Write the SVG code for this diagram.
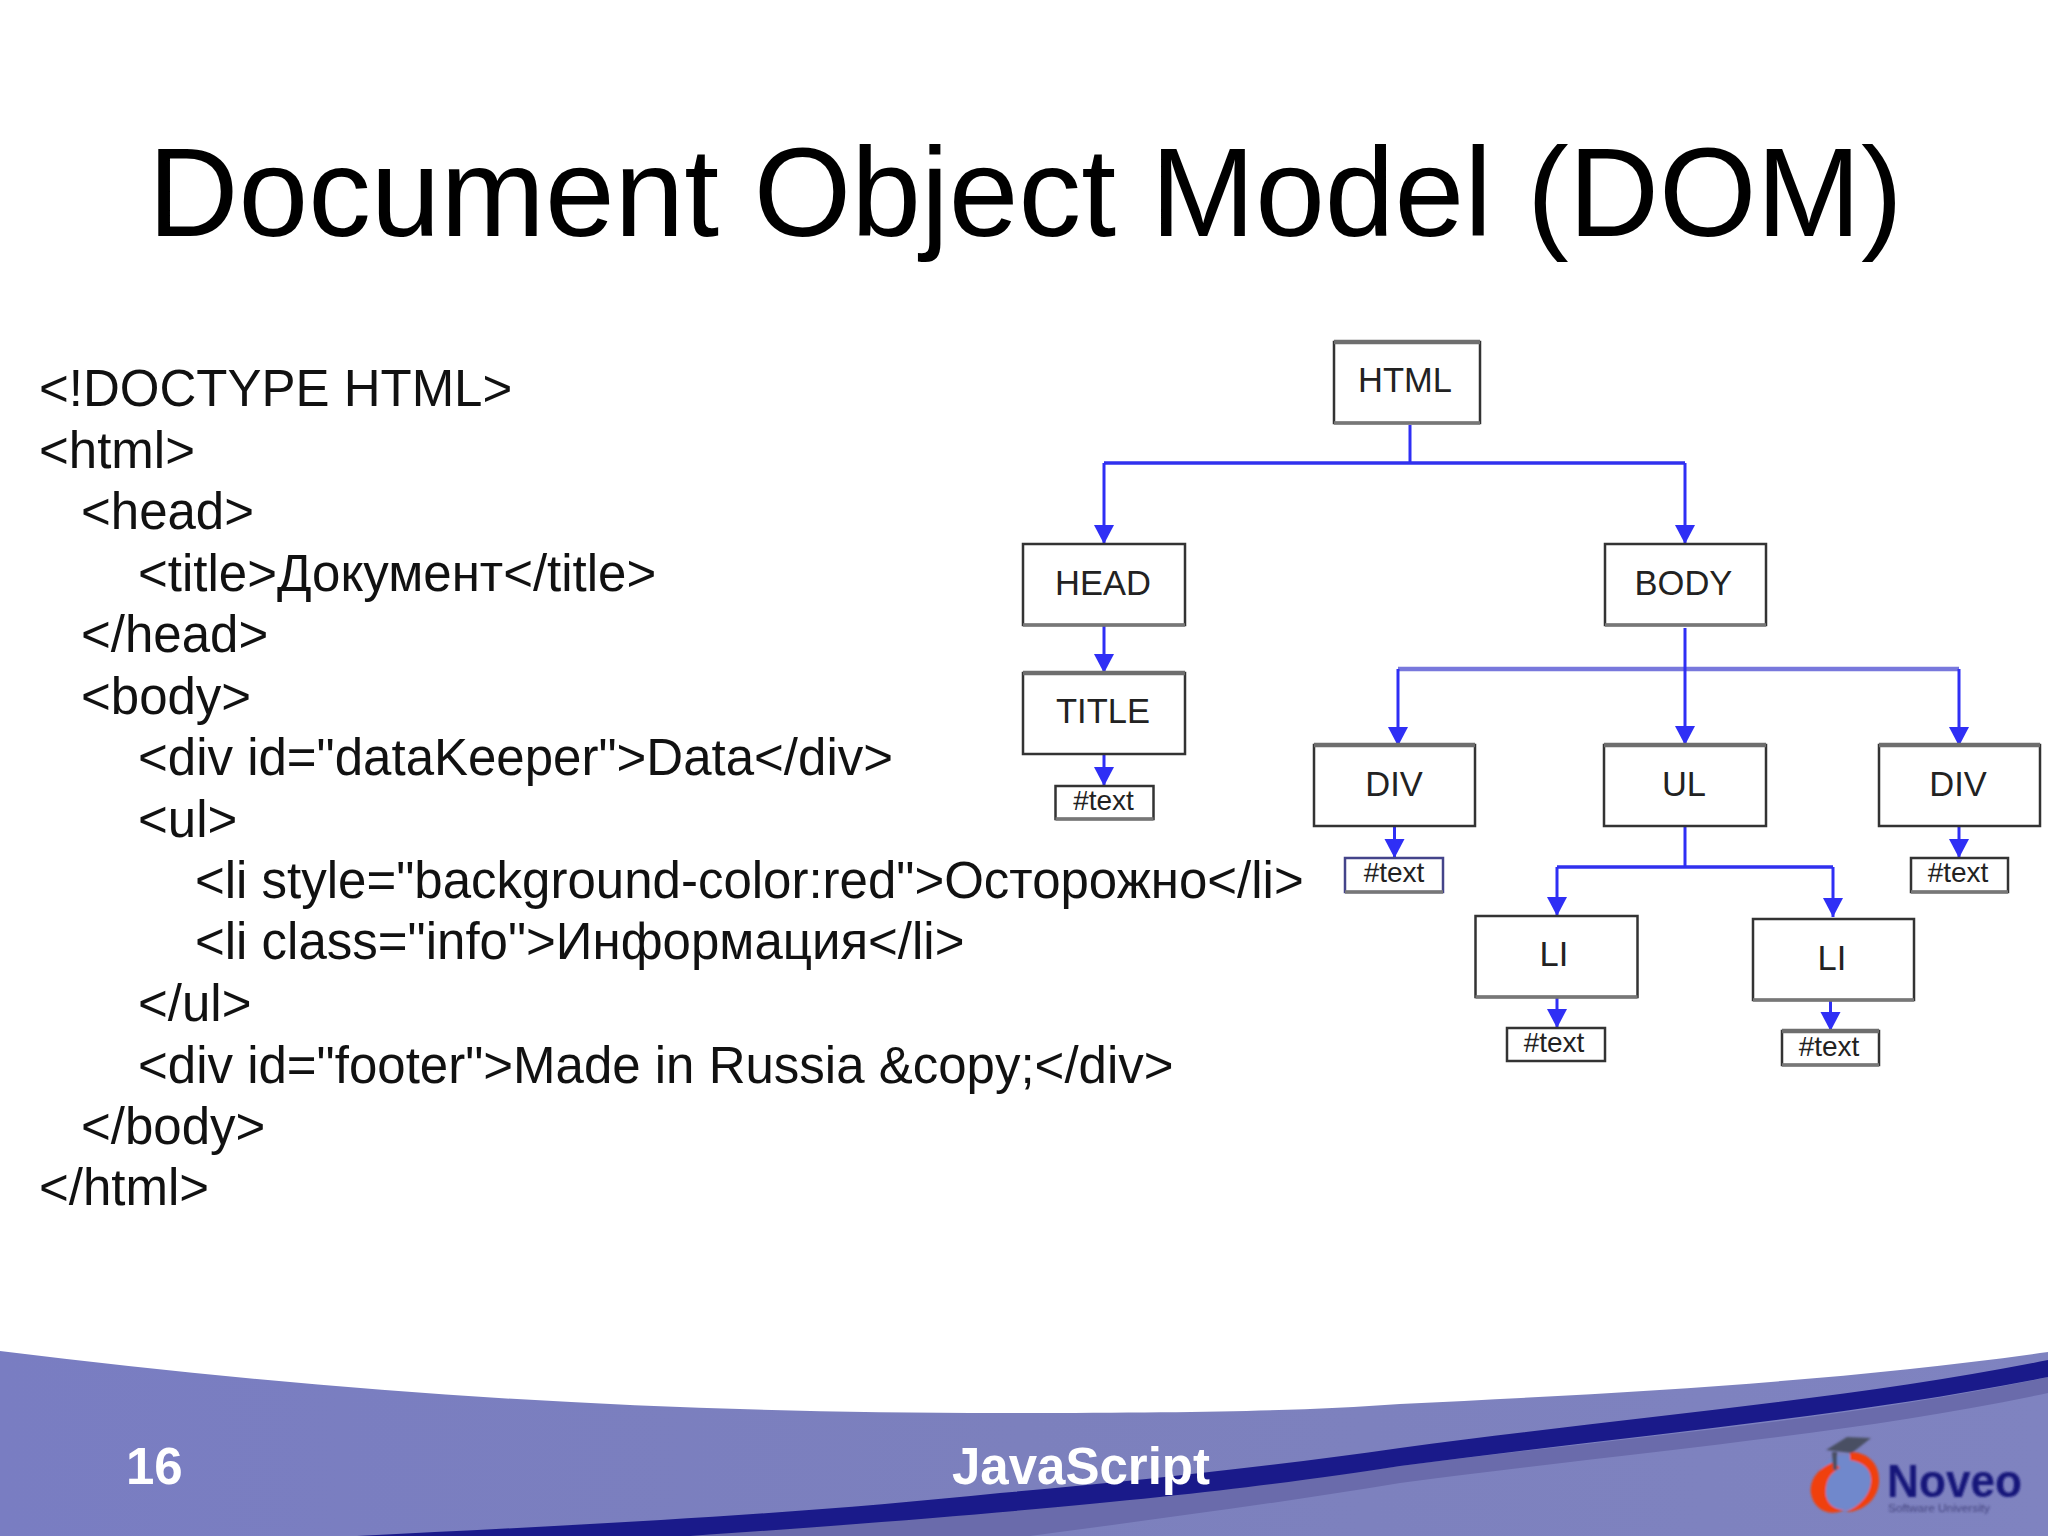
<svg xmlns="http://www.w3.org/2000/svg" width="2048" height="1536" viewBox="0 0 2048 1536">
<style>
text{font-family:"Liberation Sans",Arial,sans-serif}
.title{font-size:125.300px;fill:#000}
.code{font-size:51px;fill:#111}
.lbl{font-size:34.500px;fill:#222;text-anchor:middle}
.sm{font-size:28px;fill:#222;text-anchor:middle}
.box{fill:#fff;stroke:#333;stroke-width:2.5}
.box.blue{stroke:#44448a}
.top{stroke:#6e6e6e;stroke-width:4.5;fill:none}
.bot{stroke:#777;stroke-width:3.5;fill:none}
.c{stroke:#2f2ff5;stroke-width:3;fill:none}
.h{stroke:#3030ee;stroke-width:3.5;fill:none}
.a{marker-end:url(#arrow)}
.foot{font-size:51px;font-weight:bold;fill:#fff}
</style>
<defs>
<marker id="arrow" markerUnits="userSpaceOnUse" markerWidth="22" markerHeight="24" viewBox="0 0 22 24" refX="20" refY="12" orient="auto">
<path d="M1 2L20 12L1 22Z" fill="#2f2ff5"/>
</marker>
<linearGradient id="band" x1="0" y1="0" x2="1" y2="0">
<stop offset="0" stop-color="#797dc2"/><stop offset="0.5" stop-color="#7c80bd"/><stop offset="1" stop-color="#7f83c0"/>
</linearGradient>
<filter id="soft" x="-10%" y="-10%" width="120%" height="120%"><feGaussianBlur stdDeviation="0.9"/></filter>
</defs>
<rect width="2048" height="1536" fill="#fff"/>
<text class="title" x="148" y="236">Document Object Model (DOM)</text>
<g id="code">
<text class="code" x="39" y="406">&lt;!DOCTYPE HTML&gt;</text>
<text class="code" x="39" y="467.500">&lt;html&gt;</text>
<text class="code" x="81" y="529">&lt;head&gt;</text>
<text class="code" x="138" y="590.500">&lt;title&gt;Документ&lt;/title&gt;</text>
<text class="code" x="81" y="652">&lt;/head&gt;</text>
<text class="code" x="81" y="713.500">&lt;body&gt;</text>
<text class="code" x="138" y="775">&lt;div id="dataKeeper"&gt;Data&lt;/div&gt;</text>
<text class="code" x="138" y="836.500">&lt;ul&gt;</text>
<text class="code" x="195" y="898">&lt;li style="background-color:red"&gt;Осторожно&lt;/li&gt;</text>
<text class="code" x="195" y="959">&lt;li class="info"&gt;Информация&lt;/li&gt;</text>
<text class="code" x="138" y="1021">&lt;/ul&gt;</text>
<text class="code" x="138" y="1082.500">&lt;div id="footer"&gt;Made in Russia &amp;copy;&lt;/div&gt;</text>
<text class="code" x="81" y="1144">&lt;/body&gt;</text>
<text class="code" x="39" y="1204.500">&lt;/html&gt;</text>
</g>
<g id="connectors">
<path class="c" d="M1410 425V463"/>
<path class="h" d="M1104 463H1685"/>
<path class="c a" d="M1104 463V544"/>
<path class="c a" d="M1685 463V544"/>
<path class="c a" d="M1104 626V673"/>
<path class="c a" d="M1104 755V786"/>
<path d="M1398 669H1959" fill="none" stroke="#7878dc" stroke-width="4.500"/>
<path class="c a" d="M1685 628V745"/>
<path class="c a" d="M1398 669V746"/>
<path class="c a" d="M1959 669V746"/>
<path class="c a" d="M1394.500 827V858"/>
<path class="c a" d="M1959 827V858"/>
<path class="c" d="M1685 827V867"/>
<path class="h" d="M1557 867H1833"/>
<path class="c a" d="M1557 867V916"/>
<path class="c a" d="M1833 867V917"/>
<path class="c a" d="M1557 998V1028"/>
<path class="c a" d="M1830.500 1001V1031"/>
</g>
<g id="node-html"><rect class="box" x="1334" y="342" width="146" height="81"/><path class="top" d="M1334 342H1480"/><path class="bot" d="M1334 423H1480"/><text class="lbl" x="1405" y="392">HTML</text></g>
<g id="node-head"><rect class="box" x="1023" y="544" width="162" height="81"/><path class="bot" d="M1023 625H1185"/><text class="lbl" x="1103" y="595">HEAD</text></g>
<g id="node-body"><rect class="box" x="1605" y="544" width="161" height="81"/><path class="bot" d="M1605 625H1766"/><text class="lbl" x="1683.500" y="595">BODY</text></g>
<g id="node-title"><rect class="box" x="1023" y="673" width="162" height="81"/><path class="top" d="M1023 673H1185"/><text class="lbl" x="1103" y="723">TITLE</text></g>
<g id="node-title-text"><rect class="box" x="1055.500" y="786" width="98" height="33"/><path class="bot" d="M1055.500 819H1153.500"/><text class="sm" x="1103.500" y="810">#text</text></g>
<g id="node-div1"><rect class="box" x="1314" y="745" width="161" height="81"/><path class="top" d="M1314 745H1475"/><text class="lbl" x="1394" y="796">DIV</text></g>
<g id="node-ul"><rect class="box" x="1604" y="745" width="162" height="81"/><path class="top" d="M1604 745H1766"/><text class="lbl" x="1684" y="796">UL</text></g>
<g id="node-div2"><rect class="box" x="1879" y="745" width="161" height="81"/><path class="top" d="M1879 745H2040"/><text class="lbl" x="1958" y="796">DIV</text></g>
<g id="node-div1-text"><rect class="box blue" x="1345" y="858" width="98" height="34"/><path class="bot" d="M1345 892H1443"/><text class="sm" x="1394" y="882">#text</text></g>
<g id="node-div2-text"><rect class="box" x="1911" y="858" width="97" height="34"/><path class="bot" d="M1911 892H2008"/><text class="sm" x="1958" y="882">#text</text></g>
<g id="node-li1"><rect class="box" x="1475.500" y="916" width="162" height="81"/><path class="bot" d="M1475.500 997H1637.500"/><text class="lbl" x="1554" y="966">LI</text></g>
<g id="node-li2"><rect class="box" x="1753" y="919" width="161" height="81"/><path class="bot" d="M1753 1000H1914"/><text class="lbl" x="1832" y="970">LI</text></g>
<g id="node-li1-text"><rect class="box" x="1507" y="1028" width="98" height="33"/><text class="sm" x="1554" y="1052">#text</text></g>
<g id="node-li2-text"><rect class="box" x="1782" y="1031" width="97" height="34"/><path class="top" d="M1782 1031H1879"/><path class="bot" d="M1782 1065H1879"/><text class="sm" x="1829" y="1056">#text</text></g>
<g id="footer">
<path fill="url(#band)" d="M0 1351C330 1392 640 1413 1000 1413C1200 1413 1300 1411 1400 1404C1650 1392 1850 1380 2048 1352V1536H0Z"/>
<path fill="#6a6bab" d="M660 1536C1000 1510 1200 1495 1400 1466C1600 1440 1850 1420 2048 1377V1393C1850 1435 1650 1450 1400 1483C1280 1503 1150 1520 1030 1536Z"/>
<path fill="#1a1a8a" d="M357 1536C600 1524 800 1514 1000 1493C1150 1480 1280 1465 1400 1448C1620 1418 1850 1400 2048 1360V1377C1850 1417 1620 1437 1400 1466C1270 1486 1100 1508 690 1536Z"/>
<text class="foot" x="126" y="1484">16</text>
<text class="foot" x="952" y="1484">JavaScript</text>
<g id="logo" filter="url(#soft)">
<ellipse cx="1845" cy="1482" rx="28" ry="27" fill="#7088cc"/>
<path fill="#f0400f" d="M1834 1462C1818 1468 1809 1480 1811 1494C1814 1510 1830 1517 1844 1510C1832 1510 1824 1500 1826 1488C1827 1478 1832 1472 1840 1468Z"/>
<path fill="#f0400f" d="M1850 1452C1868 1452 1880 1464 1879 1482C1878 1500 1862 1512 1846 1512C1860 1506 1871 1494 1871 1480C1871 1468 1862 1462 1850 1460Z"/>
<path fill="#4a5064" d="M1826 1450L1847 1437L1871 1438L1852 1453Z"/>
<path fill="#4a5064" d="M1832 1452H1837V1470H1833Z"/>
<text x="1887" y="1497" font-size="46" font-weight="bold" fill="#15157a" textLength="135" lengthAdjust="spacingAndGlyphs">Noveo</text>
<text x="1888" y="1512" font-size="10" fill="#44447f" textLength="102" lengthAdjust="spacingAndGlyphs">Software University</text>
</g>
</g>
</svg>
